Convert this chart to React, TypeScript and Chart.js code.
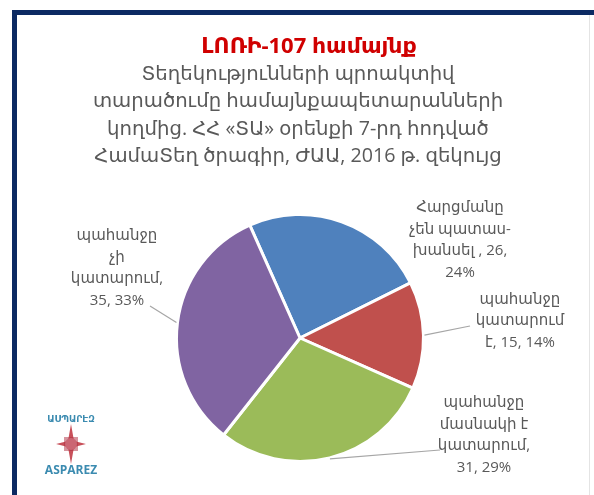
import React, { useEffect, useRef } from "react";
import { Chart, registerables } from "chart.js";

Chart.register(...registerables);

// ---- data ----
const titleText = "ԼՈՌԻ-107 համայնք";
const subtitleLines = [
  "Տեղեկությունների պրոակտիվ",
  "տարածումը համայնքապետարանների",
  "կողմից. ՀՀ «ՏԱ» օրենքի 7-րդ հոդված",
  "ՀամաՏեղ ծրագիր, ԺԱԱ, 2016 թ. զեկույց",
];
const categories = [
  "Հարցմանը չեն պատասխանսել",
  "պահանջը կատարում է",
  "պահանջը մասնակի է կատարում",
  "պահանջը չի կատարում",
];
const values = [26, 15, 31, 35];
const colors = ["#4F81BD", "#C0504D", "#9BBB59", "#8064A2"];
const total = values.reduce((a, b) => a + b, 0);
const percents = values.map((v) => Math.round((v / total) * 100) + "%");
const labelLines = [
  ["Հարցմանը", "չեն պատաս-", `խանսել , ${values[0]},`, percents[0]],
  ["պահանջը", "կատարում", `է, ${values[1]}, ${percents[1]}`],
  ["պահանջը", "մասնակի է", "կատարում,", `${values[2]}, ${percents[2]}`],
  ["պահանջը", "չի", "կատարում,", `${values[3]}, ${percents[3]}`],
];
const logoTop = "ԱՍՊԱՐԷԶ";
const logoBottom = "ASPAREZ";

// ---- layout / style ----
const FONT = "'Open Sans', 'DejaVu Sans', sans-serif";
const labelCenters = [
  [160, -98],
  [220, -17],
  [184, 97],
  [-183, -70],
];
const leaderEnds: (number[] | null)[] = [null, [170, -12], [140, 112], [-150, -32]];

const decorPlugin = {
  id: "decor",
  beforeDraw(chart: any) {
    const ctx = chart.ctx;
    const W = chart.width;
    const H = chart.height;
    ctx.save();
    ctx.fillStyle = "#ffffff";
    ctx.fillRect(0, 0, W, H);
    // faint outer marks
    ctx.strokeStyle = "#e4e4e4";
    ctx.lineWidth = 1;
    ctx.beginPath();
    ctx.moveTo(W - 4.5, 15);
    ctx.lineTo(W - 4.5, H);
    ctx.stroke();
    // frame
    ctx.fillStyle = "#0c2a63";
    ctx.fillRect(12, 10, W - 12, 5);
    ctx.fillRect(12, 10, 5, H - 10);
    ctx.restore();
  },
  afterDraw(chart: any) {
    const ctx = chart.ctx;
    ctx.save();
    ctx.textAlign = "center";
    ctx.textBaseline = "middle";
    // title
    ctx.fillStyle = "#d00000";
    ctx.font = `bold 22px ${FONT}`;
    ctx.fillText(titleText, 309, 47);
    ctx.fillStyle = "#595959";
    ctx.font = `19.7px ${FONT}`;
    subtitleLines.forEach((l, i) => ctx.fillText(l, 298, 74 + i * 27.5));

    // labels
    const meta = chart.getDatasetMeta(0);
    ctx.font = `15px ${FONT}`;
    meta.data.forEach((arc: any, i: number) => {
      const cx = arc.x;
      const cy = arc.y;
      const r = arc.outerRadius;
      const mid = (arc.startAngle + arc.endAngle) / 2;
      const lines = labelLines[i];
      const lh = 21.5;
      const [ox, oy] = labelCenters[i];
      const tx = cx + ox;
      const ty = cy + oy;
      ctx.fillStyle = "#595959";
      lines.forEach((l, j) => {
        ctx.fillText(l, tx, ty + (j - (lines.length - 1) / 2) * lh);
      });
      const end = leaderEnds[i];
      if (end) {
        ctx.strokeStyle = "#a6a6a6";
        ctx.lineWidth = 1.2;
        ctx.beginPath();
        ctx.moveTo(cx + Math.cos(mid) * (r + 1), cy + Math.sin(mid) * (r + 1));
        ctx.lineTo(cx + end[0], cy + end[1]);
        ctx.stroke();
      }
    });

    // logo
    const lx = 71;
    ctx.fillStyle = "#3b8bb0";
    ctx.font = `bold 9px ${FONT}`;
    ctx.fillText(logoTop, lx, 419);
    ctx.font = `bold 12px ${FONT}`;
    ctx.fillText(logoBottom, lx, 471);
    // star
    const sy = 444;
    ctx.fillStyle = "#c8505a";
    ctx.beginPath();
    ctx.moveTo(lx, sy - 20);
    ctx.lineTo(lx + 3, sy - 3);
    ctx.lineTo(lx + 15, sy);
    ctx.lineTo(lx + 3, sy + 3);
    ctx.lineTo(lx, sy + 20);
    ctx.lineTo(lx - 3, sy + 3);
    ctx.lineTo(lx - 15, sy);
    ctx.lineTo(lx - 3, sy - 3);
    ctx.closePath();
    ctx.fill();
    ctx.fillStyle = "#e8a0a8";
    ctx.beginPath();
    ctx.arc(lx, sy, 6, 0, Math.PI * 2);
    ctx.fill();
    ctx.strokeStyle = "#b03040";
    ctx.lineWidth = 0.6;
    for (let k = -6; k <= 6; k += 2) {
      ctx.beginPath();
      ctx.moveTo(lx + k, sy - 7);
      ctx.lineTo(lx + k, sy + 7);
      ctx.stroke();
      ctx.beginPath();
      ctx.moveTo(lx - 7, sy + k);
      ctx.lineTo(lx + 7, sy + k);
      ctx.stroke();
    }
    ctx.restore();
  },
};

export default function App() {
  const ref = useRef<HTMLCanvasElement | null>(null);
  useEffect(() => {
    document.body.style.margin = "0";
    if (!ref.current) return;
    const chart = new Chart(ref.current, {
      type: "pie",
      data: {
        labels: categories,
        datasets: [
          {
            data: values,
            backgroundColor: colors,
            borderColor: "#ffffff",
            borderWidth: 3,
          },
        ],
      },
      options: {
        animation: false,
        responsive: false,
        rotation: -24,
        layout: { padding: { left: 175, right: 169, top: 213, bottom: 32 } },
        plugins: {
          legend: { display: false },
          title: { display: false },
          tooltip: { enabled: false },
        },
      },
      plugins: [decorPlugin],
    });
    return () => chart.destroy();
  }, []);
  return (
    <div style={{ width: 594, height: 495 }}>
      <canvas ref={ref} width={594} height={495} style={{ display: "block" }} />
    </div>
  );
}
